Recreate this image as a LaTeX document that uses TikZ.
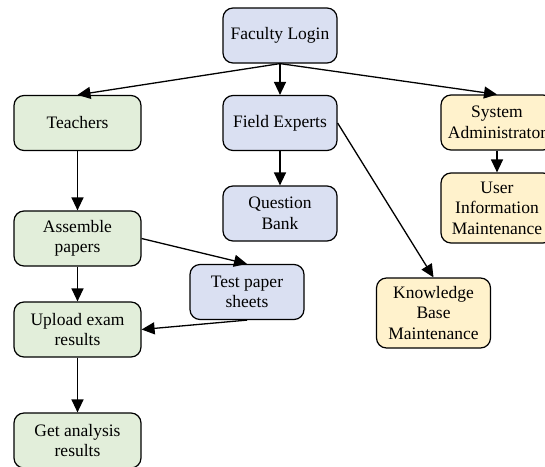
\documentclass[tikz,border=0pt]{standalone}
\usepackage{fontspec}
\setmainfont{Liberation Serif}
\newfontfamily\boxfont{Liberation Serif}
\usepackage{xcolor}
\usepackage{tikz}
\usetikzlibrary{positioning,arrows.meta}

\definecolor{greenfill}{RGB}{226,238,218}
\definecolor{bluefill}{RGB}{218,224,242}
\definecolor{yellowfill}{RGB}{255,242,204}

\tikzset{
    box/.style={draw, line width=1.2pt, rounded corners=10pt, align=center,
        minimum width=114pt, minimum height=55pt, inner sep=2pt,
        font=\boxfont\fontsize{17.5}{20.5}\selectfont},
    greenbox/.style={box, fill=greenfill, minimum width=127pt},
    bluebox/.style={box, fill=bluefill},
    yellowbox/.style={box, fill=yellowfill},
    link/.style={line width=1.3pt, -{Triangle[length=13pt,width=12pt]}}
}

\begin{document}
\begin{tikzpicture}[x=1pt,y=-1pt]
    \useasboundingbox (0,0) rectangle (545,466);
    \clip (0,0) rectangle (545,466);

    % Top
    \node[bluebox] (login) at (280,35.5) {Faculty Login};

    % Second row
    \node[greenbox] (teachers) at (77.5,123) {Teachers};
    \node[bluebox] (experts) at (280,123) {Field Experts};
    \node[yellowbox, minimum width=112pt] (sysadmin) at (497,122.5) {System\\Administrator};

    % Teachers branch
    \node[greenbox] (assemble) at (77.5,238.5) {Assemble\\papers};
    \node[bluebox] (testpaper) at (247,292) {Test paper\\sheets};
    \node[greenbox] (upload) at (77.5,329.5) {Upload exam\\results};
    \node[greenbox] (analysis) at (77.5,440.5) {Get analysis\\results};

    % Experts branch
    \node[bluebox] (qbank) at (280,213.5) {Question\\Bank};
    \node[yellowbox, minimum height=70pt] (knowledge) at (433.5,313) {Knowledge\\Base\\Maintenance};

    % Admin branch
    \node[yellowbox, minimum width=112pt, minimum height=70pt] (userinfo) at (497,208) {User\\Information\\Maintenance};

    % Connectors
    \draw[link] (login.south) -- (teachers.north);
    \draw[link] (login.south) -- (experts.north);
    \draw[link] (login.south) -- (sysadmin.north);
    \draw[link] (teachers) -- (assemble);
    \draw[link] (assemble) -- (upload);
    \draw[link] (upload) -- (analysis);
    \draw[link] (assemble.east) -- (testpaper.north);
    \draw[link] (testpaper.south) -- (upload.east);
    \draw[link] (experts) -- (qbank);
    \draw[link] (experts.east) -- (knowledge.north);
    \draw[link] (sysadmin) -- (userinfo);
\end{tikzpicture}
\end{document}
